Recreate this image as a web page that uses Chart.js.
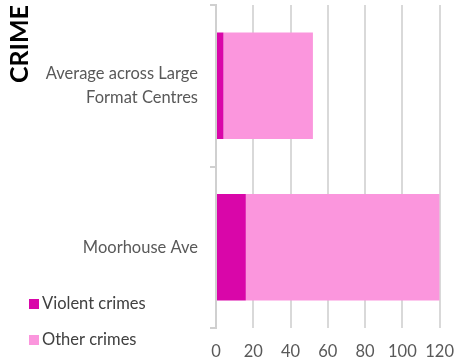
<!DOCTYPE html>
<html>
<head>
<meta charset="utf-8">
<script src="https://cdn.jsdelivr.net/npm/chart.js@4/dist/chart.umd.min.js"></script>
<style>
    html, body { margin: 0; padding: 0; background: #fff; }
    #wrap { position: relative; width: 469px; height: 358px; }
</style>
</head>
<body>
<div id="wrap"><canvas id="crimeChart"></canvas></div>
<script>
const categories = [['Average across Large', 'Format Centres'], 'Moorhouse Ave'];
const violentCrimes = [4, 16];
const otherCrimes = [48, 104];
const xTicks = [0, 20, 40, 60, 80, 100, 120];

const FONT = 'Lato, "Open Sans", sans-serif';

// Legend drawn in the lower-left corner, like the original
const cornerLegend = {
    id: 'cornerLegend',
    afterDraw(chart) {
        const ctx = chart.ctx;
        const rows = [304, 340];
        ctx.save();
        ctx.font = '16.5px ' + FONT;
        ctx.textBaseline = 'middle';
        chart.data.datasets.forEach(function(ds, i) {
            ctx.fillStyle = ds.backgroundColor;
            ctx.fillRect(29, rows[i] - 5, 10, 10);
            ctx.fillStyle = '#404040';
            ctx.fillText(ds.label, 42, rows[i]);
        });
        ctx.restore();
    }
};

document.addEventListener('DOMContentLoaded', function() {
    const ctx = document.getElementById('crimeChart').getContext('2d');
    new Chart(ctx, {
        type: 'bar',
        data: {
            labels: categories,
            datasets: [{
                label: 'Violent crimes',
                data: violentCrimes,
                backgroundColor: '#D906A9'
            }, {
                label: 'Other crimes',
                data: otherCrimes,
                backgroundColor: '#FB96DD'
            }]
        },
        options: {
            indexAxis: 'y',
            responsive: true,
            maintainAspectRatio: false,
            animation: false,
            barPercentage: 0.66,
            categoryPercentage: 1,
            layout: {
                padding: { top: 5, right: 24, bottom: 0, left: 2 }
            },
            plugins: {
                legend: { display: false },
                tooltip: { enabled: false },
                title: {
                    display: true,
                    text: 'CRIME',
                    position: 'left',
                    align: 'end',
                    color: '#000',
                    font: { family: FONT, size: 25, weight: 'bold' },
                    padding: { top: 3, bottom: 4 }
                }
            },
            scales: {
                x: {
                    stacked: true,
                    min: 0,
                    max: 120,
                    afterBuildTicks: function(scale) {
                        scale.ticks = xTicks.map(function(v) { return { value: v }; });
                    },
                    afterFit: function(scale) {
                        scale.height = 30;
                        scale.paddingTop = 0;
                        scale.paddingBottom = 0;
                    },
                    border: { display: false },
                    grid: {
                        color: '#d9d9d9',
                        lineWidth: 2,
                        drawTicks: false
                    },
                    ticks: {
                        color: '#595959',
                        padding: 15,
                        font: { family: FONT, size: 16.5, lineHeight: 1 }
                    }
                },
                y: {
                    stacked: true,
                    afterFit: function(scale) {
                        scale.width = 177;
                        // labels sit between the boundary ticks, no overflow room needed
                        scale.paddingTop = 0;
                        scale.paddingBottom = 0;
                    },
                    border: { display: true, color: '#d0d0d0', width: 2 },
                    grid: {
                        drawOnChartArea: false,
                        color: '#d0d0d0',
                        lineWidth: 2,
                        tickLength: 6
                    },
                    ticks: {
                        color: '#595959',
                        padding: 12,
                        font: { family: FONT, size: 16.5, lineHeight: 1.45 }
                    }
                }
            }
        },
        plugins: [cornerLegend]
    });
});
</script>
</body>
</html>
